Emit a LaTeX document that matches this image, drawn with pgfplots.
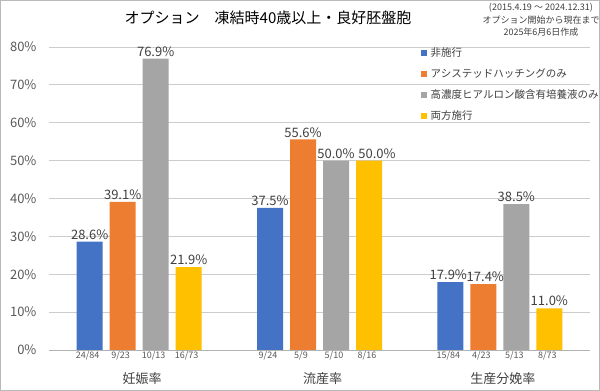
\documentclass[border=0pt]{standalone}
\usepackage{fontspec}
\setmainfont{Noto Sans CJK JP}
\usepackage{pgfplots}
\usepackage{pgfplotstable}
\pgfplotsset{compat=1.18}
\definecolor{cblue}{HTML}{4472C4}
\definecolor{corange}{HTML}{ED7D31}
\definecolor{cgray}{HTML}{A5A5A5}
\definecolor{cyellow}{HTML}{FFC000}
\definecolor{txt}{HTML}{404040}
\definecolor{tick}{HTML}{595959}
\pgfplotstableread{
x y s
0 28.6 0
1 37.5 0
2 17.9 -2
}\tblA
\pgfplotstableread{
x y s
0 39.1 0
1 55.6 0
2 17.4 2
}\tblB
\pgfplotstableread{
x y s
0 76.9 0
1 50.0 0
2 38.5 0
}\tblC
\pgfplotstableread{
x y s
0 21.9 0
1 50.0 8
2 11.0 0
}\tblD
\begin{document}
\begin{tikzpicture}[x=1pt,y=1pt]
\useasboundingbox (0,0) rectangle (600,391);
\fill[white] (0,0) rectangle (600,391);
\draw[gray!55, line width=1pt] (0.5,0.5) rectangle (599.5,390.5);
\begin{axis}[
  at={(49pt,41pt)}, anchor=south west,
  width=541pt, height=303pt, scale only axis,
  xmin=-0.5, xmax=2.5, ymin=0, ymax=80,
  ybar=7pt, bar width=26pt,
  xtick={0,1,2}, xticklabels={妊娠率,流産率,生産分娩率},
  xticklabel style={yshift=-19pt, xshift=3pt, font=\fontsize{13}{13}\selectfont, text=txt},
  ytick={0,10,...,80},
  yticklabel={\pgfmathprintnumber{\tick}\%},
  yticklabel style={font=\fontsize{13}{13}\selectfont, text=tick, xshift=-9pt},
  /pgf/number format/assume math mode=true,
  ymajorgrids, grid style={gray!40, line width=0.8pt},
  axis x line*=bottom, axis y line*=left,
  y axis line style={draw=none},
  x axis line style={gray!60, line width=0.8pt, -},
  major tick length=0pt,
  visualization depends on={\thisrow{s} \as \lshift},
  nodes near coords={\pgfmathprintnumber[fixed,fixed zerofill,precision=1]{\pgfplotspointmeta}\%},
  every node near coord/.append style={font=\fontsize{13}{13}\selectfont, text=txt, inner sep=2pt, xshift=\lshift},
  legend style={at={(0.682,1.008)}, anchor=north west, draw=none, fill=none,
    font=\fontsize{10.5}{10.5}\selectfont, text=txt, row sep=8pt,
    nodes={inner sep=1pt, text height=9pt, text depth=2pt}},
  legend cell align=left,
  legend image code/.code={\fill[#1] (0pt,-2.5pt) rectangle (5.5pt,3pt);},
  /tikz/every even column/.append style={column sep=0pt},
  clip=false,
]
\addplot[fill=cblue, draw=none] table[x=x, y=y] {\tblA};
\addplot[fill=corange, draw=none] table[x=x, y=y] {\tblB};
\addplot[fill=cgray, draw=none] table[x=x, y=y] {\tblC};
\addplot[fill=cyellow, draw=none] table[x=x, y=y] {\tblD};
\legend{\hspace{3pt}非施行,\hspace{3pt}アシステッドハッチングのみ,\hspace{3pt}高濃度ヒアルロン酸含有培養液のみ,\hspace{3pt}両方施行}
\foreach \xv/\sh/\lab in {0/-49.5/24\slash 84, 0/-16.5/9\slash 23, 0/16.5/10\slash 13, 0/49.5/16\slash 73,
                          1/-49.5/9\slash 24, 1/-16.5/5\slash 9, 1/16.5/5\slash 10, 1/49.5/8\slash 16,
                          2/-49.5/15\slash 84, 2/-16.5/4\slash 23, 2/16.5/5\slash 13, 2/49.5/8\slash 73}{
  \edef\tmp{\noexpand\node[anchor=north, inner sep=0pt, yshift=-1.5pt, xshift=\sh pt-2pt, font=\noexpand\fontsize{9}{9}\noexpand\selectfont, text=tick] at (axis cs:\xv,0) {\lab};}
  \tmp
}
\end{axis}
\node[font=\fontsize{15}{15}\selectfont, text=black] at (268,373) {オプション　凍結時40歳以上・良好胚盤胞};
\node[font=\fontsize{9}{9}\selectfont, text=txt] at (541,383) {(2015.4.19 ～ 2024.12.31)};
\node[font=\fontsize{9}{9}\selectfont, text=txt] at (541,371) {オプション開始から現在まで};
\node[font=\fontsize{9}{9}\selectfont, text=txt] at (541,359) {2025年6月6日作成};
\end{tikzpicture}
\end{document}
